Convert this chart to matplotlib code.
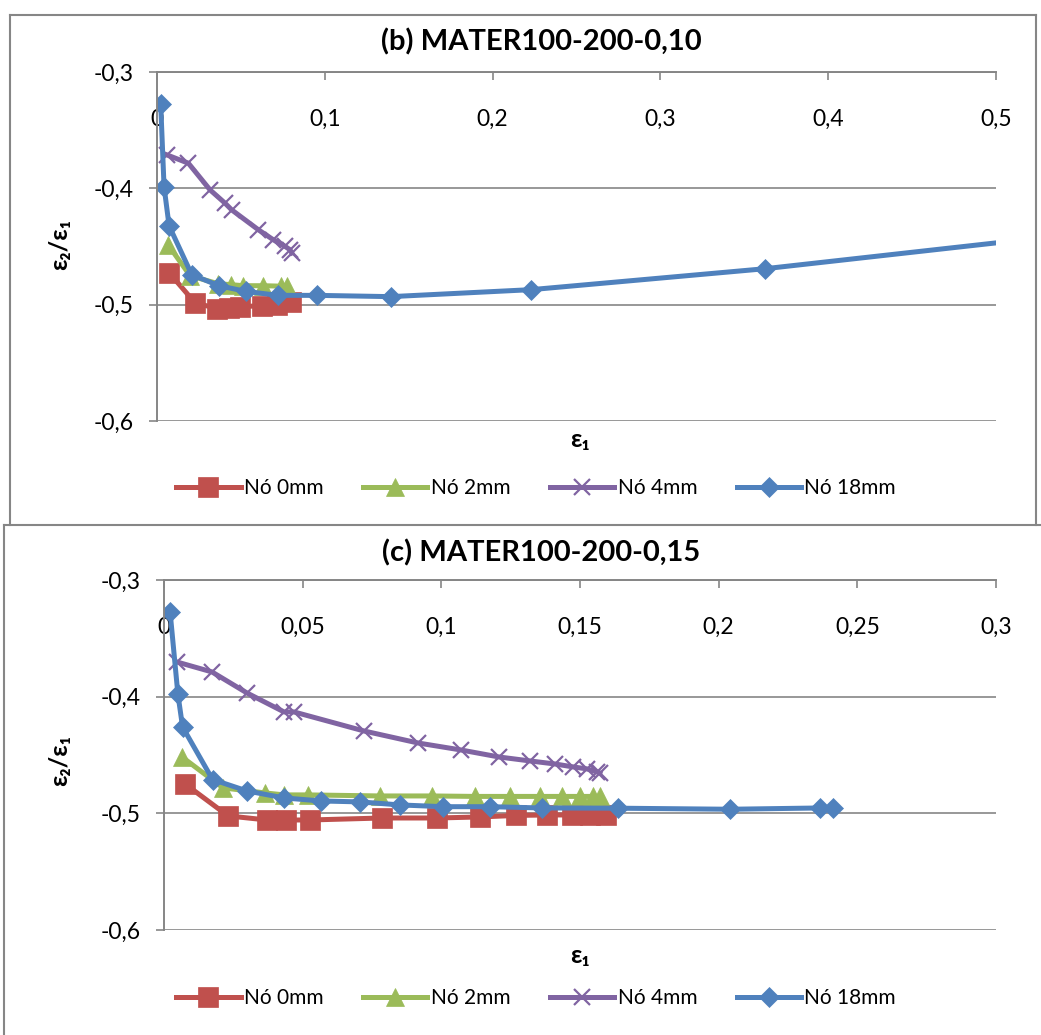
import matplotlib
matplotlib.use("Agg")
import matplotlib.pyplot as plt
from matplotlib.ticker import FuncFormatter
from matplotlib.lines import Line2D

plt.rcParams['font.family'] = ['Lato', 'DejaVu Sans']

# ---- data: (b) MATER100-200-0,10 ----
b_x0 = [0.0072, 0.0226, 0.0358, 0.0429, 0.0495, 0.0626, 0.0715, 0.0799]
b_y0 = [-0.4725, -0.4983, -0.5034, -0.5026, -0.5017, -0.5009, -0.5000, -0.4974]
b_x2 = [0.0066, 0.0197, 0.0364, 0.0441, 0.0513, 0.0632, 0.0739, 0.0775]
b_y2 = [-0.4485, -0.4751, -0.4820, -0.4828, -0.4837, -0.4837, -0.4841, -0.4841]
b_x4 = [0.0058, 0.0187, 0.0316, 0.0405, 0.0445, 0.0604, 0.0693, 0.0763, 0.0793, 0.0803]
b_y4 = [-0.3712, -0.3784, -0.4013, -0.4127, -0.4185, -0.4356, -0.4442, -0.4499, -0.4528, -0.4556]
b_x18 = [0.0022, 0.0042, 0.0072, 0.0207, 0.0369, 0.0530, 0.0721, 0.0952, 0.1394, 0.2229, 0.3623, 0.58]
b_y18 = [-0.3275, -0.3985, -0.4322, -0.4742, -0.4837, -0.4886, -0.4920, -0.4920, -0.4931, -0.4871, -0.4691, -0.434]

# ---- data: (c) MATER100-200-0,15 ----
c_x0 = [0.0076, 0.0231, 0.0371, 0.0440, 0.0527, 0.0786, 0.0984, 0.1140, 0.1269, 0.1381, 0.1471, 0.1536, 0.1594]
c_y0 = [-0.4748, -0.5022, -0.5057, -0.5057, -0.5057, -0.5040, -0.5040, -0.5031, -0.5018, -0.5014, -0.5014, -0.5014, -0.5010]
c_x2 = [0.0065, 0.0213, 0.0364, 0.0433, 0.0519, 0.0779, 0.0966, 0.1122, 0.1248, 0.1356, 0.1435, 0.1500, 0.1547, 0.1572]
c_y2 = [-0.4517, -0.4782, -0.4825, -0.4842, -0.4842, -0.4851, -0.4851, -0.4855, -0.4855, -0.4855, -0.4855, -0.4855, -0.4855, -0.4855]
c_x4 = [0.0047, 0.0173, 0.0299, 0.0433, 0.0469, 0.0721, 0.0916, 0.1071, 0.1208, 0.1320, 0.1410, 0.1475, 0.1525, 0.1561, 0.1572]
c_y4 = [-0.3703, -0.3788, -0.3968, -0.4131, -0.4131, -0.4294, -0.4397, -0.4457, -0.4517, -0.4551, -0.4577, -0.4602, -0.4619, -0.4645, -0.4654]
c_x18 = [0.0022, 0.0050, 0.0067, 0.0175, 0.0299, 0.0433, 0.0566, 0.0707, 0.0851, 0.1006, 0.1176, 0.1363, 0.1637, 0.2041, 0.2366, 0.2413]
c_y18 = [-0.3274, -0.3977, -0.4260, -0.4710, -0.4808, -0.4868, -0.4894, -0.4902, -0.4928, -0.4943, -0.4943, -0.4954, -0.4956, -0.4965, -0.4954, -0.4954]

series_labels = ['Nó 0mm', 'Nó 2mm', 'Nó 4mm', 'Nó 18mm']
series_colors = ['#C0504D', '#9BBB59', '#8064A2', '#4F81BD']
series_markers = ['s', '^', 'x', 'D']
series_msize = [14, 13, 12, 10.5]

b_xticks = [0, 0.1, 0.2, 0.3, 0.4, 0.5]
c_xticks = [0, 0.05, 0.1, 0.15, 0.2, 0.25, 0.3]
y_ticks = [-0.6, -0.5, -0.4, -0.3]

W, H = 1041, 1035
GRAY = '#868686'
TICK_FS = 16.5
LEG_FS = 15
TITLE_FS = 21
LABEL_FS = 18

fig = plt.figure(figsize=(W / 100, H / 100), dpi=100)


def rect(l, r, t, b):
    return [l / W, 1 - b / H, (r - l) / W, (b - t) / H]


def fmt(v, _pos=None):
    s = ('%.2f' % v).rstrip('0').rstrip('.')
    if s in ('-0', ''):
        s = '0'
    return s.replace('.', ',')


def draw_panel(ax, xs, ys, xticks, xmax, title, title_y, xlabel_y, ylabel_y, legend_y):
    for x, y, c, m, ms, lab in zip(xs, ys, series_colors, series_markers,
                                    series_msize, series_labels):
        mew = 1.6 if m == 'x' else 0.5
        ax.plot(x, y, color=c, lw=3.6, marker=m, ms=ms, mfc=c, mec=c, mew=mew,
                label=lab, solid_joinstyle='round')
    ax.set_xlim(0, xmax)
    ax.set_ylim(-0.6, -0.3)
    ax.set_xticks(xticks)
    ax.set_yticks(y_ticks)
    ax.xaxis.set_major_formatter(FuncFormatter(fmt))
    ax.yaxis.set_major_formatter(FuncFormatter(fmt))
    ax.grid(axis='y', color=GRAY, lw=1.2)
    ax.set_axisbelow(True)
    for s in ('bottom', 'right'):
        ax.spines[s].set_visible(False)
    for s in ('top', 'left'):
        ax.spines[s].set_color(GRAY)
        ax.spines[s].set_linewidth(1.4)
    ax.tick_params(axis='x', top=True, bottom=False, labeltop=True, labelbottom=False,
                   direction='in', length=6, width=1.2, color=GRAY,
                   pad=-42, labelsize=TICK_FS)
    ax.tick_params(axis='y', direction='out', length=6, width=1.2, color=GRAY,
                   pad=11, labelsize=TICK_FS)
    fig.text(541 / W, 1 - title_y / H, title, ha='center', va='center',
             fontsize=TITLE_FS, fontweight='bold')
    fig.text(580 / W, 1 - xlabel_y / H, 'ε₁', ha='center', va='center',
             fontsize=LABEL_FS, fontweight='bold')
    fig.text(60 / W, 1 - ylabel_y / H, 'ε₂/ε₁', ha='center', va='center',
             rotation=90, fontsize=LABEL_FS, fontweight='bold')
    ax.legend(loc='center', bbox_to_anchor=(536 / W, 1 - legend_y / H),
              bbox_transform=fig.transFigure, ncol=4, frameon=False,
              fontsize=LEG_FS, handlelength=3.1, handletextpad=0.15,
              columnspacing=1.9, borderaxespad=0)


ax1 = fig.add_axes(rect(157, 996, 72, 421))
draw_panel(ax1, [b_x0, b_x2, b_x4, b_x18], [b_y0, b_y2, b_y4, b_y18],
           b_xticks, 0.5, '(b) MATER100-200-0,10', 42, 440, 245, 488)

ax2 = fig.add_axes(rect(164, 996, 580, 930))
draw_panel(ax2, [c_x0, c_x2, c_x4, c_x18], [c_y0, c_y2, c_y4, c_y18],
           c_xticks, 0.3, '(c) MATER100-200-0,15', 553, 955, 760, 998)


# chart area borders
def hline(y, x0, x1):
    fig.add_artist(Line2D([x0 / W, x1 / W], [1 - y / H, 1 - y / H], color=GRAY, lw=1.5))


def vline(x, y0, y1):
    fig.add_artist(Line2D([x / W, x / W], [1 - y0 / H, 1 - y1 / H], color=GRAY, lw=1.5))


hline(15, 10, 1036)
hline(525, 4, 1041)
vline(10, 15, 525)
vline(1036, 15, 525)
vline(4, 525, 1035)

fig.savefig('out.png', dpi=100)
